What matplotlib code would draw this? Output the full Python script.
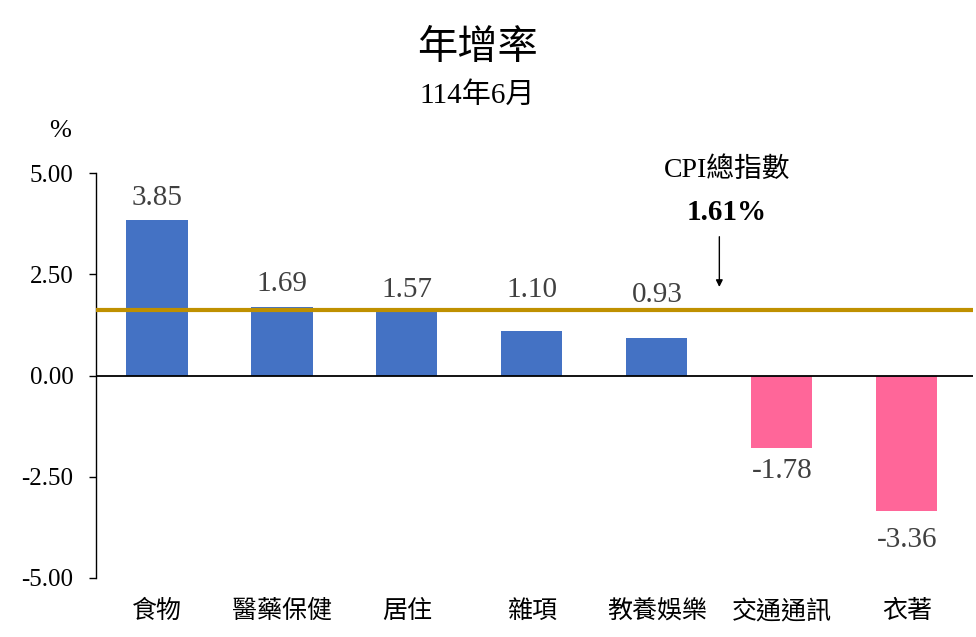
import matplotlib
matplotlib.use("Agg")
import matplotlib.pyplot as plt

plt.rcParams["font.family"] = ["Liberation Serif", "Noto Sans CJK TC"]

categories = ["食物", "醫藥保健", "居住", "雜項", "教養娛樂", "交通通訊", "衣著"]
values = [3.85, 1.69, 1.57, 1.10, 0.93, -1.78, -3.36]
cpi_total = 1.61
yticks = [5.0, 2.5, 0.0, -2.5, -5.0]

# where the value labels sit (moved clear of the CPI line, as in the source)
label_y = [4.40, 2.27, 2.12, 2.12, 1.98, -2.35, -4.07]

BLUE = "#4472C4"
PINK = "#FF6699"
GOLD = "#BF9000"

fig = plt.figure(figsize=(9.76, 6.37), dpi=100)
ax = fig.add_axes([0.098, 0.093, 0.899, 0.635])

x = list(range(len(categories)))
colors = [BLUE if v >= 0 else PINK for v in values]
ax.bar(x, values, width=0.49, color=colors, zorder=2)

ax.axhline(0, color="black", linewidth=1.3, zorder=3)
ax.axhline(cpi_total, color=GOLD, linewidth=3, zorder=4)

for xi, v, ly in zip(x, values, label_y):
    ax.text(xi, ly, f"{v:.2f}", ha="center", va="center",
            fontsize=21, color="#404040")

ax.set_xlim(-0.49, 6.53)
ax.set_ylim(-5, 5)
ax.set_yticks(yticks)
ax.set_yticklabels([f"{t:.2f}" for t in yticks], fontsize=18)
ax.set_xticks(x)
ax.set_xticklabels(categories, fontsize=18)
ax.tick_params(axis="x", length=0, pad=16)
ax.tick_params(axis="y", direction="out", length=5, width=1, pad=11)
for side in ["top", "right", "bottom"]:
    ax.spines[side].set_visible(False)
ax.spines["left"].set_linewidth(1)

# annotation for overall CPI
ax.annotate("", xy=(4.5, 2.12), xytext=(4.5, 3.5),
            arrowprops=dict(arrowstyle="-|>", color="black", lw=1,
                            mutation_scale=10))
ax.text(4.56, 5.07, "CPI總指數", ha="center", va="center", fontsize=20)
ax.text(4.56, 4.03, f"{cpi_total:.2f}%", ha="center", va="center",
        fontsize=21, fontweight="bold")

fig.text(0.489, 0.923, "年增率", ha="center", va="center", fontsize=29)
fig.text(0.489, 0.850, "114年6月", ha="center", va="center", fontsize=21)
fig.text(0.062, 0.795, "%", ha="center", va="center", fontsize=19)

fig.savefig("out.png", dpi=100)
